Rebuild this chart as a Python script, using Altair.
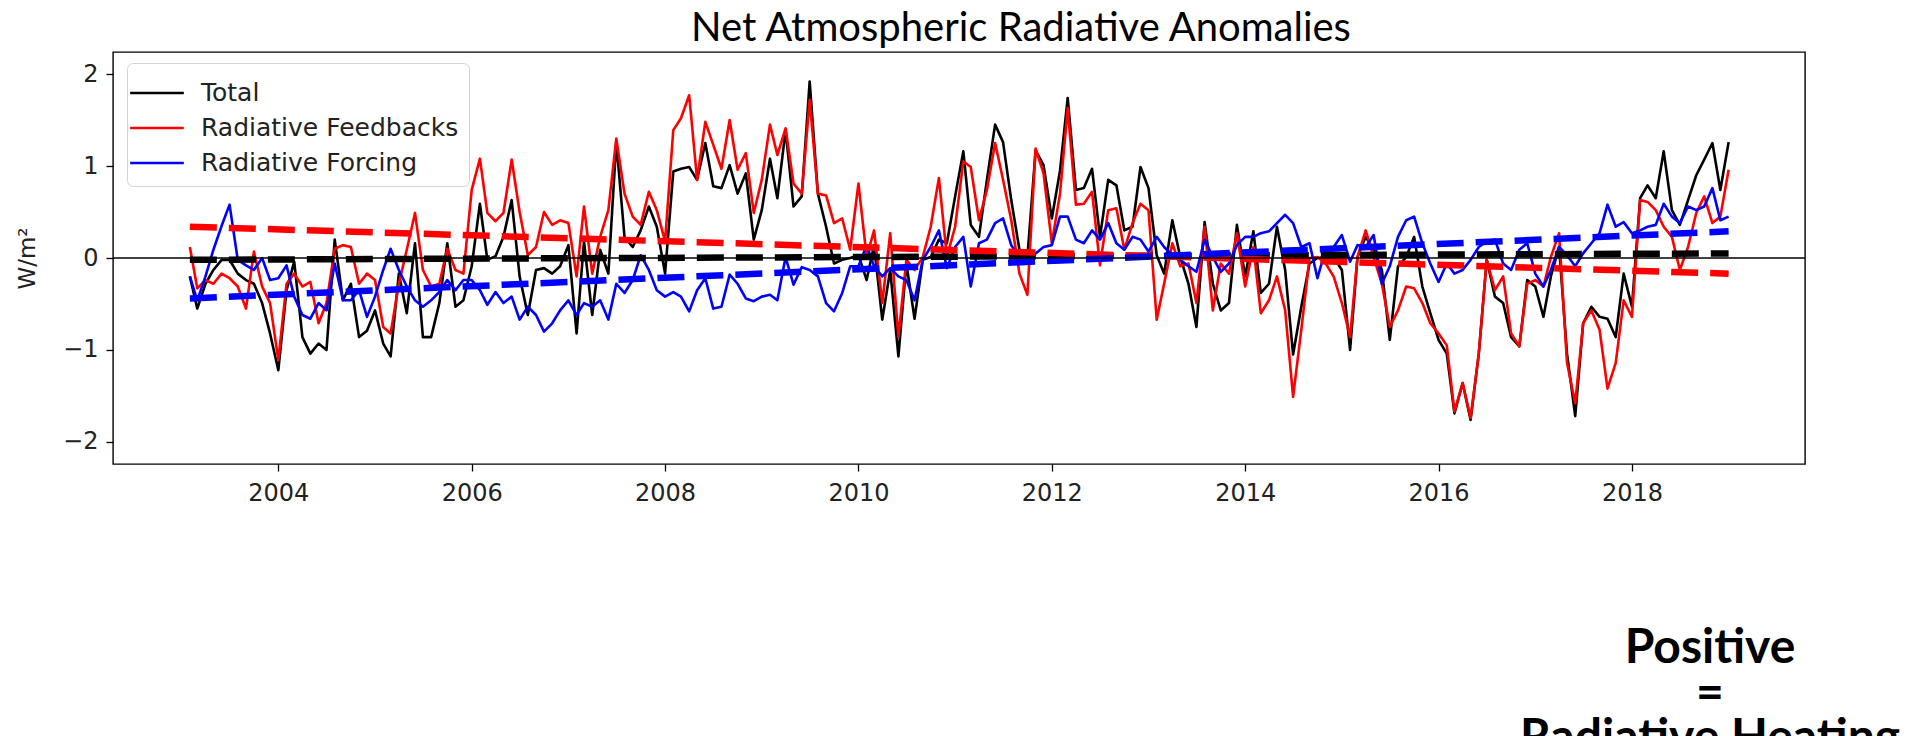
import altair as alt
import pandas as pd

# Monthly anomaly series (W/m^2), Feb 2003 onward
start_month = "2003-02-01"
n_months = 192

total = [
    -0.20, -0.55, -0.28, -0.13, -0.02, -0.02, -0.17, -0.24, -0.28, -0.49, -0.82, -1.22, -0.35, -0.04, -0.86, -1.04, -0.93, -1.00, 0.20, -0.46,
    -0.28, -0.86, -0.79, -0.57, -0.93, -1.07, -0.17, -0.60, 0.16, -0.86, -0.86, -0.49, 0.16, -0.53, -0.46, -0.09, 0.59, -0.02,
    0.02, 0.23, 0.63, -0.20, -0.62, -0.13, -0.11, -0.17, -0.09, 0.14, -0.82, 0.18, -0.62, 0.09, -0.17, 1.26, 0.23, 0.12, 0.30, 0.56,
    0.34, -0.17, 0.94, 0.97, 0.99, 0.85, 1.25, 0.78, 0.76, 1.01, 0.70, 0.92, 0.20, 0.52, 1.08, 0.65, 1.39, 0.56,
    0.67, 1.92, 0.70, 0.34, -0.06, -0.02, 0.00, 0.03, -0.24, 0.14, -0.67, -0.13, -1.07, -0.06, -0.66, -0.02, 0.01, 0.20, 0.16,
    0.67, 1.16, 0.36, 0.23, 0.85, 1.45, 1.26, 0.63, 0.09, 0.01, 1.17, 1.01, 0.43, 0.95, 1.74, 0.74, 0.76, 0.97,
    0.23, 0.85, 0.79, 0.30, 0.34, 0.99, 0.76, 0.03, -0.17, 0.41, 0.01, -0.28, -0.75, 0.39, -0.28, -0.57, -0.49, 0.36, -0.20,
    0.29, -0.38, -0.28, 0.34, -0.13, -1.05, -0.53, -0.06, 0.00, 0.01, 0.01, -0.13, -1.00, 0.01, 0.23, 0.09, -0.13, -0.89, -0.09,
    0.01, 0.23, -0.31, -0.60, -0.89, -1.04, -1.69, -1.36, -1.76, -1.04, -0.02, -0.42, -0.49, -0.86, -0.96, -0.24, -0.31, -0.64, -0.20,
    0.12, -1.04, -1.72, -0.71, -0.53, -0.64, -0.66, -0.86, -0.17, -0.53, 0.65, 0.79, 0.65, 1.16, 0.52, 0.36, 0.63, 0.90, 1.07,
    1.25, 0.74, 1.26,
]

feedbacks = [
    0.12, -0.33, -0.24, -0.28, -0.17, -0.22, -0.31, -0.55, 0.07, -0.31, -0.49, -1.11, -0.28, -0.17, -0.31, -0.26, -0.71, -0.49, 0.10, 0.14,
    0.12, -0.28, -0.17, -0.24, -0.75, -0.82, -0.28, 0.09, 0.49, -0.13, -0.31, -0.28, 0.10, -0.13, -0.17, 0.74, 1.08, 0.49,
    0.40, 0.49, 1.07, 0.50, 0.03, 0.12, 0.50, 0.36, 0.41, 0.38, -0.20, 0.56, -0.17, 0.23, 0.52, 1.30, 0.70, 0.45, 0.36, 0.72,
    0.52, 0.18, 1.39, 1.52, 1.77, 0.85, 1.48, 1.23, 0.97, 1.50, 0.96, 1.14, 0.49, 0.85, 1.45, 1.12, 1.41, 0.81,
    0.70, 1.72, 0.70, 0.68, 0.38, 0.43, 0.09, 0.81, 0.01, 0.30, -0.49, 0.27, -0.86, -0.02, -0.13, 0.01, 0.34, 0.87, 0.01,
    0.34, 1.05, 0.99, 0.41, 0.74, 1.25, 0.85, 0.41, -0.17, -0.40, 1.19, 0.92, 0.16, 0.70, 1.63, 0.58, 0.59, 0.72,
    -0.08, 0.52, 0.54, 0.09, 0.38, 0.59, 0.52, -0.67, -0.28, 0.16, -0.09, -0.06, -0.49, 0.34, -0.57, -0.06, -0.17, 0.27, -0.31,
    0.12, -0.60, -0.46, -0.20, -0.57, -1.51, -0.78, 0.00, 0.01, -0.06, -0.20, -0.49, -0.86, 0.01, 0.30, 0.01, -0.28, -0.75, -0.57,
    -0.31, -0.33, -0.49, -0.71, -0.82, -0.95, -1.67, -1.36, -1.74, -1.04, -0.02, -0.35, -0.20, -0.82, -0.96, -0.28, -0.24, -0.31, 0.01,
    0.27, -1.14, -1.58, -0.71, -0.57, -0.78, -1.42, -1.14, -0.46, -0.64, 0.63, 0.61, 0.52, 0.34, 0.23, -0.13, 0.12, 0.49, 0.67,
    0.38, 0.45, 0.96,
]

forcing = [
    -0.20, -0.46, -0.20, 0.09, 0.35, 0.58, -0.02, -0.08, -0.13, 0.00, -0.24, -0.22, -0.08, -0.42, -0.62, -0.66, -0.49, -0.57, -0.06, -0.46,
    -0.46, -0.35, -0.64, -0.42, -0.13, 0.10, -0.13, -0.31, -0.46, -0.53, -0.46, -0.37, -0.24, -0.35, -0.24, -0.24, -0.35, -0.51,
    -0.37, -0.49, -0.42, -0.67, -0.53, -0.62, -0.80, -0.71, -0.57, -0.46, -0.62, -0.49, -0.53, -0.46, -0.67, -0.28, -0.38, -0.24, 0.03, -0.13,
    -0.35, -0.42, -0.37, -0.42, -0.58, -0.35, -0.22, -0.55, -0.53, -0.18, -0.28, -0.44, -0.47, -0.42, -0.40, -0.46, 0.01, -0.29,
    -0.10, -0.13, -0.20, -0.49, -0.58, -0.38, -0.09, -0.09, 0.14, -0.09, -0.20, -0.11, -0.20, -0.24, -0.46, -0.02, 0.12, 0.30, -0.11,
    0.12, 0.23, -0.31, 0.16, 0.20, 0.38, 0.43, 0.14, 0.00, 0.01, 0.05, 0.12, 0.14, 0.45, 0.45, 0.20, 0.16, 0.30,
    0.20, 0.38, 0.16, 0.09, 0.23, 0.20, 0.07, 0.23, 0.12, 0.03, -0.02, -0.09, -0.15, 0.20, 0.01, -0.15, -0.06, 0.14, 0.23,
    0.23, 0.27, 0.29, 0.38, 0.47, 0.38, 0.12, 0.16, -0.22, 0.10, 0.12, 0.25, -0.04, 0.14, 0.12, 0.25, -0.28, -0.09, 0.23,
    0.41, 0.45, 0.16, -0.06, -0.26, -0.06, -0.17, -0.13, -0.02, 0.12, 0.18, 0.20, -0.06, -0.13, 0.09, 0.16, -0.17, -0.31, -0.13,
    0.12, 0.03, -0.09, 0.05, 0.16, 0.27, 0.58, 0.34, 0.39, 0.27, 0.30, 0.34, 0.36, 0.59, 0.45, 0.38, 0.56, 0.52, 0.56,
    0.76, 0.41, 0.45,
]

series_names = ["Total", "Radiative Feedbacks", "Radiative Forcing"]
series_colors = ["black", "red", "blue"]

# Linear-trend values at the first and last month of each series
trend_first = [-0.02, 0.34, -0.44]
trend_last = [0.05, -0.17, 0.29]

x_ticks = [2004, 2006, 2008, 2010, 2012, 2014, 2016, 2018]
y_ticks = [-2, -1, 0, 1, 2]
x_domain = [2002.29, 2019.79]
y_domain = [-2.24, 2.24]

title_text = "Net Atmospheric Radiative Anomalies"
note_lines = ["Positive", "=", "Radiative Heating"]

# ---- tables ----
dates = pd.date_range(start_month, periods=n_months, freq="MS")
year_frac = (dates.year + (dates.dayofyear - 1) / 365.25).tolist()

rows = []
for name, vals in zip(series_names, [total, feedbacks, forcing]):
    for yr, v in zip(year_frac, vals):
        rows.append({"year": yr, "value": v, "series": name})
df = pd.DataFrame(rows)

trend_rows = []
for name, col, a, b in zip(series_names, series_colors, trend_first, trend_last):
    trend_rows.append({"year": year_frac[0], "value": a, "series": name, "hex": col})
    trend_rows.append({"year": year_frac[-1], "value": b, "series": name, "hex": col})
trend_df = pd.DataFrame(trend_rows)

x_scale = alt.Scale(domain=x_domain, nice=False, zero=False)
y_scale = alt.Scale(domain=y_domain, nice=False, zero=False)
color_scale = alt.Scale(domain=series_names, range=series_colors)

x_enc = alt.X("year:Q", scale=x_scale,
              axis=alt.Axis(values=x_ticks, format="d", title=None, labelPadding=10))
y_enc = alt.Y("value:Q", scale=y_scale,
              axis=alt.Axis(values=y_ticks, format="d", title="W/m²",
                            labelExpr="replace(datum.label, '-', '\u2212')",
                            titleAngle=270, titleX=-86, titleY=206,
                            titleAlign="center", titleBaseline="middle",
                            titleFont="DejaVu Sans", titleFontSize=23,
                            titleFontWeight="normal", titleColor="#222",
                            labelPadding=8))

legend = alt.Legend(
    title=None, orient="none", legendX=14, legendY=11,
    symbolType="M-1.45,0H1.45", symbolSize=1369, symbolStrokeWidth=2.6,
    labelFont="DejaVu Sans", labelFontSize=25, labelColor="#222", labelLimit=0,
    labelOffset=24, padding=10, rowPadding=2,
    strokeColor="#d3d3d3", fillColor="white", cornerRadius=6,
)

layers = []
for name in series_names:
    layers.append(
        alt.Chart(df).transform_filter(alt.datum.series == name)
        .mark_line(strokeWidth=2.6, strokeJoin="round")
        .encode(x=x_enc, y=y_enc,
                color=alt.Color("series:N", scale=color_scale, sort=series_names, legend=legend))
    )

for name in series_names:
    layers.append(
        alt.Chart(trend_df).transform_filter(alt.datum.series == name)
        .mark_line(strokeWidth=6.5, strokeDash=[27, 12], strokeCap="butt")
        .encode(x=alt.X("year:Q", scale=x_scale), y=alt.Y("value:Q", scale=y_scale),
                color=alt.Color("hex:N", scale=None))
    )

zero_line = alt.Chart(pd.DataFrame({"value": [0]})).mark_rule(
    color="black", strokeWidth=1.4
).encode(y=alt.Y("value:Q", scale=y_scale))
layers.append(zero_line)

title = alt.Chart(pd.DataFrame({"t": [title_text]})).mark_text(
    font="Lato", fontSize=40, color="black", align="center", baseline="alphabetic"
).encode(text="t:N", x=alt.value(908), y=alt.value(-11))
layers.append(title)

note_y = [611, 657, 701]
for line, yy in zip(note_lines, note_y):
    layers.append(
        alt.Chart(pd.DataFrame({"t": [line]})).mark_text(
            font="Lato", fontSize=48, fontWeight="bold", color="black",
            align="center", baseline="alphabetic"
        ).encode(text="t:N", x=alt.value(1597), y=alt.value(yy))
    )

chart = alt.layer(*layers).properties(
    width=1692, height=412,
    autosize=alt.AutoSizeParams(type="none"),
    padding={"left": 113, "top": 52, "right": 121, "bottom": 272},
).configure_view(
    stroke="black", strokeWidth=1.4
).configure_axis(
    domain=False, grid=False, ticks=True, tickColor="black", tickWidth=1.3, tickSize=7,
    labelFont="DejaVu Sans", labelFontSize=24, labelColor="#222",
)

chart.save("out.html", embed_options={"renderer": "svg", "actions": False})
